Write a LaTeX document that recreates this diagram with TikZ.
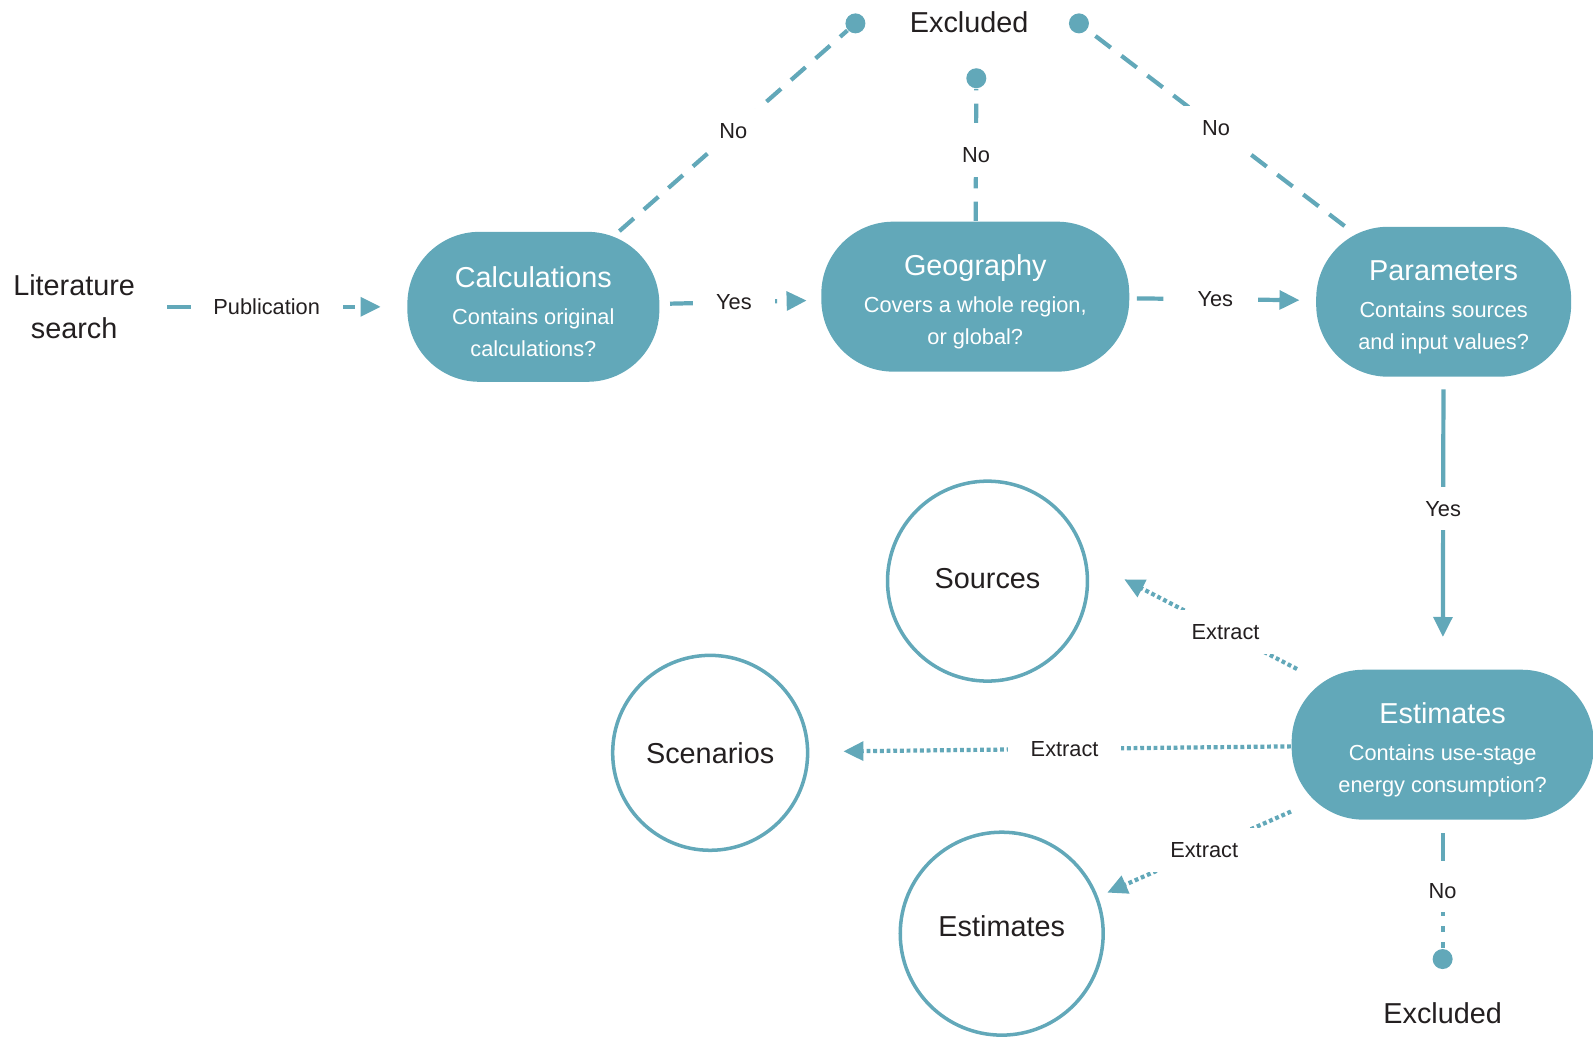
\documentclass[tikz,border=0pt]{standalone}
\usepackage{fontspec}
\setmainfont{Liberation Sans}
\usepackage{xcolor}
\usepackage{tikz}
\usetikzlibrary{positioning}
\usetikzlibrary{arrows.meta}

\definecolor{flowblue}{RGB}{98,168,185}
\definecolor{inktxt}{RGB}{35,31,32}
\newcommand{\qtitle}[1]{{\fontsize{8.2}{9}\selectfont\rule{0pt}{8.8pt}#1}\\[1.5pt]}

\tikzset{
    question/.style={rectangle,rounded corners=0.72cm,fill=flowblue,text=white,align=center,
        minimum height=1.5cm,inner sep=0pt,font=\fontsize{6.2}{9}\selectfont},
    outcome/.style={circle,draw=flowblue,line width=1pt,minimum size=2cm,
        text=inktxt,font=\fontsize{8.2}{10}\selectfont},
    enddot/.style={circle,fill=flowblue,inner sep=0pt,minimum size=0.2cm},
    bigtxt/.style={text=inktxt,align=center,font=\fontsize{8.2}{12.1}\selectfont},
    lbl/.style={fill=white,text=inktxt,inner xsep=6.5pt,inner ysep=4pt,font=\fontsize{6.2}{7}\selectfont},
    link/.style={draw=flowblue,line width=1.2pt,-{Triangle[length=5.7pt,width=5.3pt]}},
    dashlink/.style={link,dash pattern=on 7.5pt off 4pt},
    dotlink/.style={link,dash pattern=on 1.1pt off 0.8pt},
    nolink/.style={draw=flowblue,line width=1.2pt,dash pattern=on 5.5pt off 3.8pt},
}

\begin{document}
\begin{tikzpicture}[x=0.0101594cm,y=-0.0101594cm]
\useasboundingbox (0,0) rectangle (1568,1021);

    \node[bigtxt] (lit) at (73,302) {Literature\\search};
    \node[question,minimum width=2.52cm] (calc) at (525,302) {\qtitle{Calculations}Contains original\\calculations?};
    \node[question,minimum width=3.08cm] (geo) at (960,292) {\qtitle{Geography}Covers a whole region,\\or global?};
    \node[question,minimum width=2.55cm] (param) at (1421,297) {\qtitle{Parameters}Contains sources\\and input values?};
    \node[question,minimum width=3.02cm] (est) at (1420,733) {\qtitle{Estimates}Contains use-stage\\energy consumption?};

    \node[outcome] (src) at (972,572) {Sources\rule[-1.6pt]{0pt}{0pt}};
    \node[outcome,minimum size=1.95cm] (scen) at (699,741) {Scenarios};
    \node[outcome,minimum size=2.03cm] (estc) at (986,919) {Estimates\rule[-4.5pt]{0pt}{0pt}};

    \node[enddot] (dA) at (842,23) {};
    \node[enddot] (dB) at (961,77) {};
    \node[enddot] (dC) at (1062,23) {};
    \node[enddot] (dD) at (1420,944) {};
    \node[bigtxt] (exA) at (954,22) {Excluded};
    \node[bigtxt] (exB) at (1420,997) {Excluded};

    \draw[dashlink,shorten <=0.2cm,shorten >=0.26cm] (lit) -- node[lbl,pos=0.46]{Publication} (calc);
    \draw[dashlink,shorten <=0.1cm,shorten >=0.14cm] (calc) -- node[lbl,pos=0.46]{Yes} (geo);
    \draw[dashlink,shorten <=0.07cm,shorten >=0.16cm] (geo) -- node[lbl,pos=0.46]{Yes} (param);
    \draw[link,shorten <=0.12cm,shorten >=0.32cm] (param) -- node[lbl,pos=0.45]{Yes} (est);

    \draw[nolink] (calc) -- node[lbl]{No} (dA);
    \draw[nolink] (geo) -- node[lbl]{No} (dB);
    \draw[nolink] (param) -- node[lbl]{No} (dC);
    \draw[nolink,dash pattern=on 8pt off 3pt on 1.5pt off 3pt,shorten <=0.13cm] (est) -- node[lbl,pos=0.55]{No} (dD);

    \draw[dotlink,shorten >=0.42cm] (est) -- node[lbl,pos=0.34]{Extract} (src.12);
    \draw[dotlink,shorten >=0.34cm] (est) -- node[lbl,pos=0.47]{Extract} (scen);
    \draw[dotlink,shorten >=0.1cm] (est) -- node[lbl,pos=0.45]{Extract} (estc.21);

\end{tikzpicture}
\end{document}
